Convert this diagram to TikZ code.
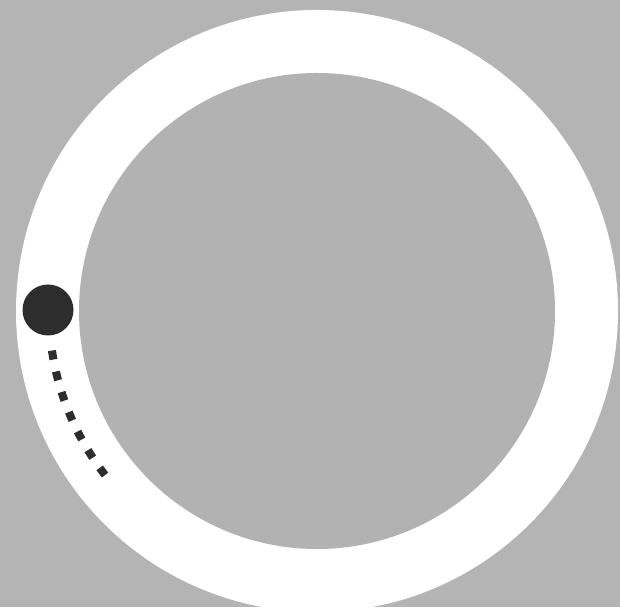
\documentclass[tikz,border=0pt]{standalone}
\begin{document}
\begin{tikzpicture}[x=1pt,y=1pt]
\definecolor{bggray}{RGB}{180,180,180}
\definecolor{ingray}{RGB}{178,178,178}
\definecolor{darkdot}{RGB}{45,45,45}
\useasboundingbox (0,0) rectangle (620,607);
\fill[bggray] (0,0) rectangle (620,607);
\begin{scope}
\clip (0,0) rectangle (620,607);
\fill[white] (317,296) circle[radius=301];
\fill[ingray] (317,296) circle[radius=238];
\end{scope}
\fill[darkdot] (48,297) circle[radius=25.5];
\draw[darkdot, line width=8pt, dash pattern=on 9pt off 12.3pt]
  (317,296) ++(188.5:268) arc[start angle=188.5, end angle=218, radius=268];
\end{tikzpicture}
\end{document}
